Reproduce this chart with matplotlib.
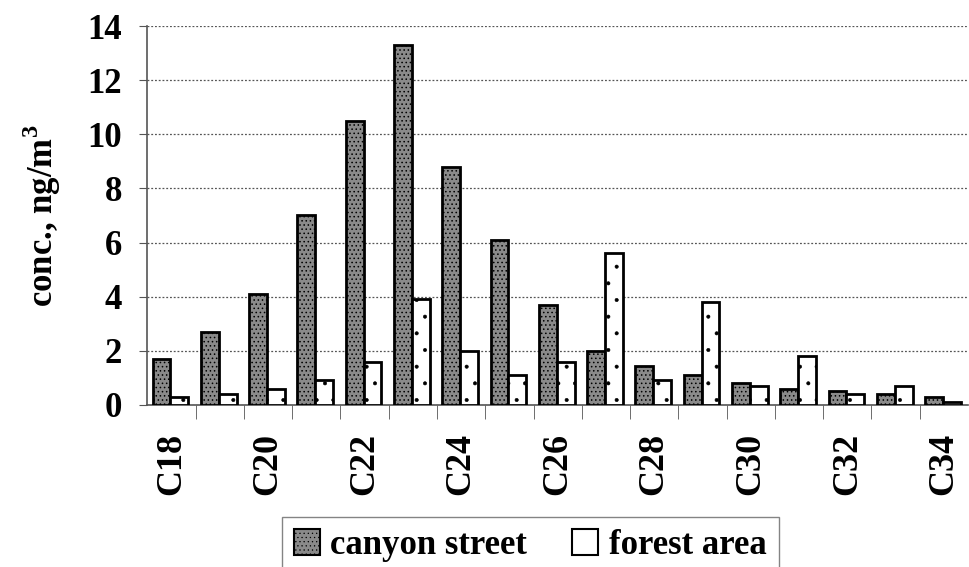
import numpy as np
import matplotlib
matplotlib.use("Agg")
import matplotlib.pyplot as plt
from matplotlib.ticker import FixedLocator

categories = ["C%d" % n for n in range(18, 35)]
canyon = [1.7, 2.7, 4.1, 7.0, 10.5, 13.3, 8.8, 6.1, 3.7, 2.0, 1.45, 1.1, 0.8, 0.6, 0.5, 0.4, 0.3]
forest = [0.3, 0.4, 0.6, 0.9, 1.6, 3.9, 2.0, 1.1, 1.6, 5.6, 0.9, 3.8, 0.7, 1.8, 0.4, 0.7, 0.1]
yticks = [0, 2, 4, 6, 8, 10, 12, 14]

plt.rcParams["font.family"] = ["Liberation Serif", "DejaVu Serif"]
plt.rcParams["font.weight"] = "bold"
plt.rcParams["mathtext.fontset"] = "custom"
plt.rcParams["mathtext.bf"] = "Liberation Serif:bold"
plt.rcParams["hatch.color"] = "#555555"
plt.rcParams["hatch.linewidth"] = 0.6

fig = plt.figure(figsize=(9.69, 5.67), dpi=100)
ax = fig.add_axes([0.152, 0.286, 0.847, 0.668])

x = np.arange(len(categories))
w = 0.37
ax.bar(x - w / 2 - 0.02, canyon, w, color="#8a8a8a", edgecolor="black",
       linewidth=2, hatch="....", label="canyon street", zorder=3)
plt.rcParams["hatch.color"] = "#999999"
plt.rcParams["hatch.linewidth"] = 0.4
fb = ax.bar(x + w / 2 - 0.02, forest, w, color="white", edgecolor="black",
            linewidth=2, label="forest area", zorder=3)
for p in fb.patches:
    p.set_hatch(".")
fb.patches[0].set_label("forest area")

ax.set_xlim(-0.5, len(categories) - 0.5)
ax.set_ylim(0, 14)
ax.set_yticks(yticks)
ax.yaxis.grid(True, linestyle=(0, (1.5, 1.5)), color="#555555", linewidth=0.9)
ax.set_axisbelow(True)

ax.set_xticks(x[::2])
ax.set_xticklabels(categories[::2], rotation=90, fontsize=26, fontweight="bold")
ax.tick_params(axis="x", which="major", length=0, pad=20)
ax.xaxis.set_minor_locator(FixedLocator(np.arange(0.5, len(categories) - 0.5, 1)))
ax.tick_params(axis="x", which="minor", length=10, direction="out", color="#555555")
ax.tick_params(axis="y", labelsize=25, length=6, color="#555555", pad=12)
for lab in ax.get_yticklabels():
    lab.set_fontweight("bold")

for side in ["top", "right"]:
    ax.spines[side].set_visible(False)
for side in ["left", "bottom"]:
    ax.spines[side].set_color("#555555")
    ax.spines[side].set_linewidth(1.2)

ax.set_ylabel("conc., ng/m$^\\mathbf{3}$", fontsize=25, fontweight="bold", labelpad=18)

from matplotlib.patches import Patch
handles = [Patch(facecolor="#8a8a8a", edgecolor="black", linewidth=1.5, hatch="...."),
           Patch(facecolor="white", edgecolor="black", linewidth=1.5)]
leg = fig.legend(handles, ["canyon street", "forest area"],
                 loc="upper center", bbox_to_anchor=(0.547, 0.088), ncol=2,
                 fontsize=25, frameon=True, fancybox=False, edgecolor="#666666",
                 handlelength=0.75, handleheight=0.75, handletextpad=0.3,
                 columnspacing=1.3, borderpad=0.35, borderaxespad=0)
leg.get_frame().set_linewidth(1.0)

fig.savefig("out.png", dpi=100)
